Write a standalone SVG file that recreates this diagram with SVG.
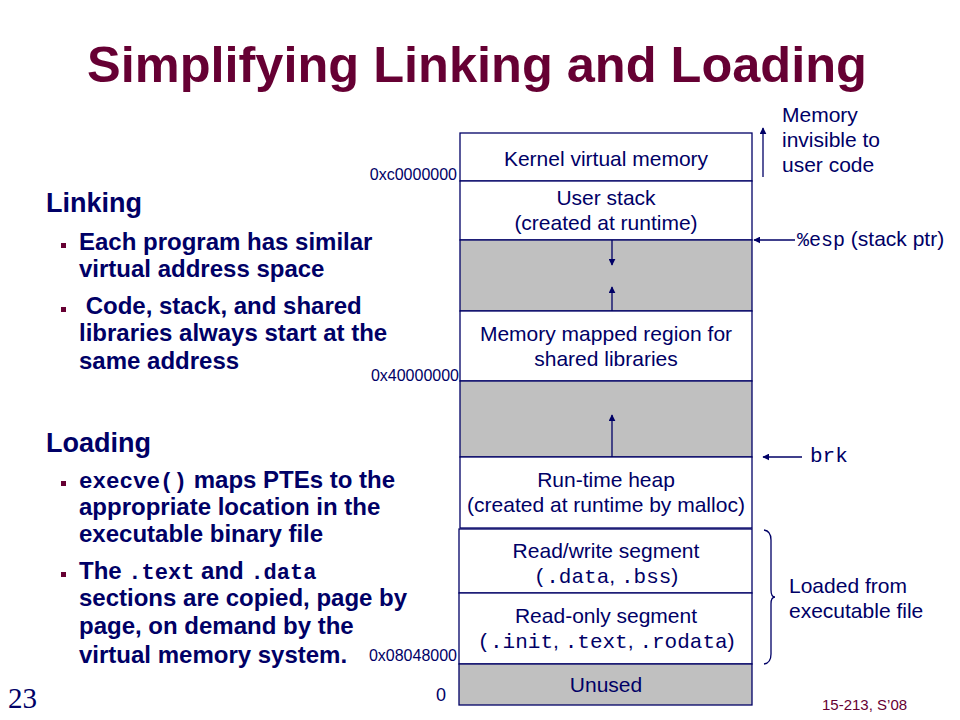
<svg xmlns="http://www.w3.org/2000/svg" width="960" height="720" viewBox="0 0 960 720">
<defs>
<style>
.t{font-family:"Liberation Sans",Arial,sans-serif;fill:#000066}
.m{font-family:"Liberation Mono","Courier New",monospace;font-weight:normal}
.mb{font-family:"Liberation Mono","Courier New",monospace;font-weight:bold}
.box{fill:#ffffff;stroke:#000066;stroke-width:1.3}
.gray{fill:#c0c0c0;stroke:#000066;stroke-width:1.3}
.lbl{font-size:21px;text-anchor:middle}
.addr{font-size:16px;text-anchor:end}
.side{font-size:21px}
.h{font-size:27px;font-weight:bold}
.b{font-size:24px;font-weight:bold}
.ln{stroke:#000066;stroke-width:1.3;fill:none}
.bul{fill:#660033}
</style>
<marker id="ah" viewBox="0 0 10 10" refX="9" refY="5" markerWidth="7" markerHeight="7" orient="auto" markerUnits="userSpaceOnUse">
<path d="M0,0 L10,5 L0,10 z" fill="#000066"/>
</marker>
</defs>
<rect width="960" height="720" fill="#ffffff"/>
<text x="477" y="82" text-anchor="middle" style="font-family:'Liberation Sans',Arial,sans-serif;font-weight:bold;font-size:50.5px;fill:#660033">Simplifying Linking and Loading</text>

<g id="left-text" class="t">
<text x="46" y="212" class="t h">Linking</text>
<rect class="bul" x="61" y="243" width="5" height="5"/>
<text x="79" y="250" class="t b">Each program has similar</text>
<text x="79" y="277" class="t b">virtual address space</text>
<rect class="bul" x="61" y="307" width="5" height="5"/>
<text x="79" y="314" class="t b" xml:space="preserve"> Code, stack, and shared</text>
<text x="79" y="341" class="t b">libraries always start at the</text>
<text x="79" y="369" class="t b">same address</text>
<text x="46" y="452" class="t h">Loading</text>
<rect class="bul" x="61" y="481" width="5" height="5"/>
<text x="79" y="488" class="t b"><tspan class="mb" style="font-size:22.5px">execve()</tspan> maps PTEs to the</text>
<text x="79" y="515" class="t b">appropriate location in the</text>
<text x="79" y="542" class="t b">executable binary file</text>
<rect class="bul" x="61" y="572" width="5" height="5"/>
<text x="79" y="579" class="t b">The <tspan class="mb" style="font-size:22px">.text</tspan> and <tspan class="mb" style="font-size:22px">.data</tspan></text>
<text x="79" y="606" class="t b">sections are copied, page by</text>
<text x="79" y="634" class="t b">page, on demand by the</text>
<text x="79" y="663" class="t b">virtual memory system.</text>
</g>

<g id="kernel"><rect class="box" x="460" y="133" width="292" height="48"/><text x="606" y="166" class="t lbl">Kernel virtual memory</text></g>
<g id="user-stack"><rect class="box" x="460" y="181" width="292" height="59"/><text x="606" y="205" class="t lbl">User stack</text><text x="606" y="230" class="t lbl">(created at runtime)</text></g>
<g id="gap1"><rect class="gray" x="460" y="240" width="292" height="71"/></g>
<g id="mmap"><rect class="box" x="460" y="311" width="292" height="70"/><text x="606" y="341" class="t lbl">Memory mapped region for</text><text x="606" y="366" class="t lbl">shared libraries</text></g>
<g id="gap2"><rect class="gray" x="460" y="381" width="292" height="76"/></g>
<g id="heap"><rect class="box" x="460" y="457" width="292" height="71"/><text x="606" y="487" class="t lbl">Run-time heap</text><text x="606" y="512" class="t lbl">(created at runtime by malloc)</text></g>
<g id="rw"><rect class="box" x="459" y="529" width="293" height="64"/><text x="606" y="558" class="t lbl">Read/write segment</text><text x="606" y="583" class="t lbl"><tspan class="m">(.data</tspan>, <tspan class="m">.bss</tspan>)</text></g>
<g id="ro"><rect class="box" x="459" y="593" width="293" height="71"/><text x="606" y="623" class="t lbl">Read-only segment</text><text x="606" y="648" class="t lbl"><tspan class="m">(.init</tspan>, <tspan class="m">.text</tspan>, <tspan class="m">.rodata</tspan>)</text></g>
<g id="unused"><rect class="gray" x="459" y="664" width="293" height="41"/><text x="606" y="692" class="t lbl">Unused</text></g>

<g id="addresses" class="t">
<text x="457" y="180" class="t addr">0xc0000000</text>
<text x="459" y="381" class="t addr">0x40000000</text>
<text x="457" y="661" class="t addr">0x08048000</text>
<text x="446" y="701" class="t" style="font-size:18px;text-anchor:end">0</text>
</g>

<g id="connectors">
<line class="ln" x1="612" y1="240" x2="612" y2="265" marker-end="url(#ah)"/>
<line class="ln" x1="612" y1="311" x2="612" y2="287" marker-end="url(#ah)"/>
<line class="ln" x1="612" y1="457" x2="612" y2="415" marker-end="url(#ah)"/>
<line class="ln" x1="763" y1="177" x2="763" y2="128" marker-end="url(#ah)"/>
<line class="ln" x1="795" y1="240" x2="754" y2="240" marker-end="url(#ah)"/>
<line class="ln" x1="802" y1="457" x2="763" y2="457" marker-end="url(#ah)"/>
<path class="ln" d="M764,530 Q771,531 771,540 L771,590 Q771,597 775,597 Q771,597 771,604 L771,654 Q771,663 764,664"/>
</g>

<g id="side-labels" class="t">
<text x="782" y="122" class="t side">Memory</text>
<text x="782" y="147" class="t side">invisible to</text>
<text x="782" y="172" class="t side">user code</text>
<text x="797" y="246" class="t side"><tspan class="m" style="font-size:20px">%esp</tspan> (stack ptr)</text>
<text x="810" y="462" class="t m" style="font-size:21px">brk</text>
<text x="789" y="593" class="t side">Loaded from</text>
<text x="789" y="618" class="t side">executable file</text>
</g>

<text x="8" y="708" style="font-family:'Liberation Serif','Times New Roman',serif;font-size:29px;fill:#000066">23</text>
<text x="822" y="710" style="font-family:'Liberation Sans',Arial,sans-serif;font-size:15px;fill:#660033">15-213, S’08</text>
</svg>
